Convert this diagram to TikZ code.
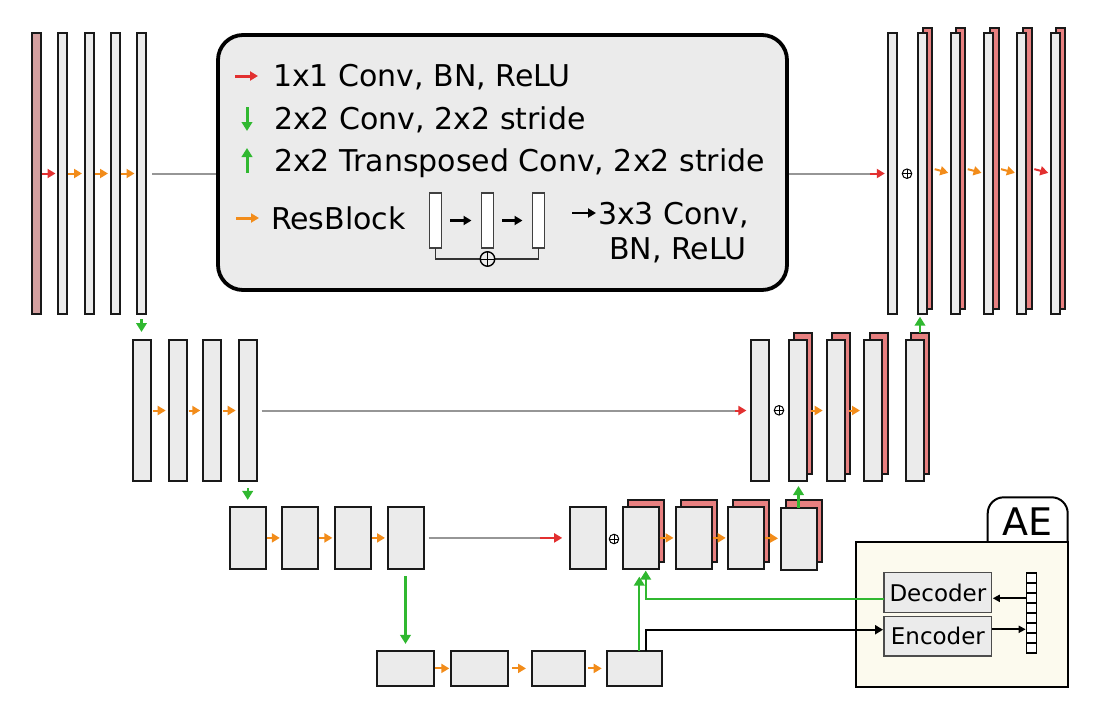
\documentclass[tikz,border=0pt]{standalone}
\usepackage{fontspec}
\setmainfont{DejaVu Sans}
\usetikzlibrary{arrows.meta}
\definecolor{barfill}{RGB}{235,235,235}
\definecolor{salmon}{RGB}{232,128,128}
\definecolor{dustypink}{RGB}{212,160,160}
\definecolor{resorange}{RGB}{242,140,26}
\definecolor{convred}{RGB}{226,48,48}
\definecolor{sampgreen}{RGB}{48,184,48}
\definecolor{skipgray}{RGB}{150,150,150}
\definecolor{aecream}{RGB}{252,250,238}
\tikzset{
  every node/.style = {inner sep=0pt, outer sep=0pt},
  tallbar/.style    = {draw=black!90, fill=barfill, line width=2pt,
                       minimum width=9pt, minimum height=281pt},   % top level
  midbar/.style     = {tallbar, minimum width=18pt, minimum height=141pt},
  lowbar/.style     = {tallbar, minimum width=36pt, minimum height=62pt},
  flatbar/.style    = {tallbar, minimum height=35pt},               % bottleneck
  minibar/.style    = {draw=black!75, fill=white, line width=1.2pt,
                       minimum width=12pt, minimum height=55pt},
  addnode/.style    = {circle, draw, line width=1pt, minimum size=9.5pt,
                       path picture={\draw[line width=1pt]
                         (path picture bounding box.north) -- (path picture bounding box.south)
                         (path picture bounding box.west) -- (path picture bounding box.east);}},
  resarr/.style     = {-{Triangle[length=8pt,width=9pt]}, resorange, line width=2pt,
                       shorten <=1pt, shorten >=2.5pt},
  convarr/.style    = {resarr, convred},
  samparr/.style    = {-{Triangle[length=9pt,width=10.5pt]}, sampgreen, line width=2.2pt},
  blackarr/.style   = {-{Triangle[length=8pt,width=9pt]}, black, line width=2pt},
  bigarr/.style     = {line width=3pt, shorten <=0pt, shorten >=0pt},
  skipline/.style   = {skipgray, line width=2pt},
  legendtext/.style = {font=\fontsize{30}{36}\selectfont, anchor=base west},
  aebox/.style      = {draw=black!70, fill=barfill, line width=1.3pt,
                       minimum width=107.7pt, minimum height=39.6pt,
                       font=\fontsize{23}{28}\selectfont}
}
\begin{document}
\begin{tikzpicture}[x=1pt, y=-1pt]
  \useasboundingbox (0,0) rectangle (1099,723);

  % ---- top level, encoder side
  \node[tallbar, fill=dustypink] (t1) at (36.5,173.5) {};
  \node[tallbar] (t2) at (62.5,173.5) {};
  \node[tallbar] (t3) at (89,173.5) {};
  \node[tallbar] (t4) at (115,173.5) {};
  \node[tallbar] (t5) at (141.5,173.5) {};
  \draw[convarr] (t1.east) -- (t2.west);
  \draw[resarr] (t2.east) -- (t3.west);
  \draw[resarr] (t3.east) -- (t4.west);
  \draw[resarr] (t4.east) -- (t5.west);

  % ---- top level, decoder side
  \node[tallbar] (r1) at (892.3,173.5) {};
  \node[tallbar, fill=salmon] (r2p) at (927.8,168.5) {};
  \node[tallbar] (r2) at (922.2,173.5) {};
  \node[tallbar, fill=salmon] (r3p) at (960.8,168.5) {};
  \node[tallbar] (r3) at (955.2,173.5) {};
  \node[tallbar, fill=salmon] (r4p) at (994.1,168.5) {};
  \node[tallbar] (r4) at (988.5,173.5) {};
  \node[tallbar, fill=salmon] (r5p) at (1027.4,168.5) {};
  \node[tallbar] (r5) at (1021.8,173.5) {};
  \node[tallbar, fill=salmon] (r6p) at (1060.8,168.5) {};
  \node[tallbar] (r6) at (1055.2,173.5) {};
  \node[addnode] (radd) at (907,173.7) {};
  \draw[resarr, shorten <=2.5pt] (r2p.east) -- (r3.west);
  \draw[resarr, shorten <=2.5pt] (r3p.east) -- (r4.west);
  \draw[resarr, shorten <=2.5pt] (r4p.east) -- (r5.west);
  \draw[convarr, shorten <=2.5pt] (r5p.east) -- (r6.west);

  % skip connection behind the legend
  \draw[skipline] ([xshift=6pt]t5.east) -- ([xshift=-18pt]r1.west);
  \draw[convarr, shorten <=0pt, shorten >=0pt] ([xshift=-18pt]r1.west) -- ([xshift=-3pt]r1.west);

  % ---- legend
  \node[draw=black, fill=barfill, line width=3.8pt, rounded corners=25pt,
        minimum width=569pt, minimum height=255pt] (legend) at (502.5,162.5) {};
  \draw[convarr, bigarr] (235,76) -- (258,76);
  \node[legendtext] (lg1) at (273,86) {1x1 Conv, BN, ReLU};
  \draw[samparr, bigarr] (247,107) -- (247,131);
  \node[legendtext] (lg2) at (274,129) {2x2 Conv, 2x2 stride};
  \draw[samparr, bigarr] (247,173) -- (247,148);
  \node[legendtext] (lg3) at (274,171) {2x2 Transposed Conv, 2x2 stride};
  \draw[resarr, bigarr] (236,218) -- (259,218);
  \node[legendtext] (lg4) at (271,229) {ResBlock};
  \node[minibar] (mba) at (435.5,220.5) {};
  \node[minibar] (mbb) at (487.5,220.5) {};
  \node[minibar] (mbc) at (538.5,220.5) {};
  \draw[blackarr, line width=2.6pt, shorten <=8.5pt, shorten >=10pt] (mba.east) -- (mbb.west);
  \draw[blackarr, line width=2.6pt, shorten <=8.5pt, shorten >=10pt] (mbb.east) -- (mbc.west);
  \draw[line width=1.3pt, black!80] (mba.south) -- ++(0,11) -| (mbc.south);
  \node[addnode, fill=barfill, line width=1.4pt, minimum size=14.5pt] (mbadd) at (487.5,259) {};
  \draw[blackarr, line width=2.6pt, shorten <=0pt, shorten >=0pt] (572,213) -- (596,213);
  \node[legendtext] (lg5) at (598,224) {3x3 Conv,};
  \node[legendtext] (lg6) at (609,259) {BN, ReLU};

  % ---- middle level, encoder side
  \node[midbar] (m1) at (142.3,410.5) {};
  \node[midbar] (m2) at (177.7,410.5) {};
  \node[midbar] (m3) at (212.3,410.5) {};
  \node[midbar] (m4) at (247.7,410.5) {};
  \draw[resarr, shorten <=2pt, shorten >=3pt] (m1.east) -- (m2.west);
  \draw[resarr, shorten <=2pt, shorten >=3pt] (m2.east) -- (m3.west);
  \draw[resarr, shorten <=2pt, shorten >=3pt] (m3.east) -- (m4.west);
  \draw[samparr, shorten <=5pt, shorten >=8pt] (t5.south) -- (t5.south |- m1.north);

  % ---- middle level, decoder side
  \node[midbar] (mr1) at (759.9,410.5) {};
  \node[midbar, fill=salmon] (mr2p) at (803,403.5) {};
  \node[midbar] (mr2) at (798.2,410.5) {};
  \node[midbar, fill=salmon] (mr3p) at (840.5,403.5) {};
  \node[midbar] (mr3) at (835.7,410.5) {};
  \node[midbar, fill=salmon] (mr4p) at (878.7,403.5) {};
  \node[midbar] (mr4) at (873,410.5) {};
  \node[midbar, fill=salmon] (mr5p) at (920,403.5) {};
  \node[midbar] (mr5) at (915,410.5) {};
  \node[addnode] (madd) at (779,410.3) {};
  \draw[resarr, shorten <=4pt, shorten >=4pt] (mr2.east) -- (mr3.west);
  \draw[resarr, shorten <=4pt, shorten >=4pt] (mr3.east) -- (mr4.west);
  \draw[samparr, shorten >=2.7pt] (mr5p.north) -- (mr5p.north |- r2.south);
  \draw[skipline] ([xshift=5pt]m4.east) -- ([xshift=-16pt]mr1.west);
  \draw[convarr, shorten <=0pt, shorten >=0pt] ([xshift=-16pt]mr1.west) -- ([xshift=-4.5pt]mr1.west);

  % ---- low level, encoder side
  \node[lowbar] (l1) at (247.9,537.9) {};
  \node[lowbar] (l2) at (300.3,537.9) {};
  \node[lowbar] (l3) at (352.9,537.9) {};
  \node[lowbar] (l4) at (405.5,537.9) {};
  \draw[resarr] (l1.east) -- (l2.west);
  \draw[resarr] (l2.east) -- (l3.west);
  \draw[resarr] (l3.east) -- (l4.west);
  \draw[samparr, shorten <=7pt, shorten >=7pt] (m4.south) -- (m4.south |- l1.north);

  % ---- low level, decoder side
  \node[lowbar] (lr1) at (588.2,537.9) {};
  \node[lowbar, fill=salmon] (lr2p) at (645.7,530.5) {};
  \node[lowbar] (lr2) at (640.5,537.9) {};
  \node[lowbar, fill=salmon] (lr3p) at (699.2,530.5) {};
  \node[lowbar] (lr3) at (694,537.9) {};
  \node[lowbar, fill=salmon] (lr4p) at (751.4,530.5) {};
  \node[lowbar] (lr4) at (746.2,537.9) {};
  \node[lowbar, fill=salmon] (lr5p) at (803.9,530.5) {};
  \node[lowbar] (lr5) at (798.5,538.5) {};
  \node[addnode] (laddn) at (614,539) {};
  \draw[resarr] (lr2.east) -- (lr3.west);
  \draw[resarr] (lr3.east) -- (lr4.west);
  \draw[resarr] (lr4.east) -- (lr5.west);
  \draw[samparr, shorten >=5pt] (lr5.north) -- (lr5.north |- mr2.south);
  \draw[skipline] ([xshift=5pt]l4.east) -- ([xshift=-30pt]lr1.west);
  \draw[convarr, shorten <=0pt, shorten >=0pt] ([xshift=-30pt]lr1.west) -- ([xshift=-8pt]lr1.west);

  % ---- bottleneck
  \node[flatbar, minimum width=56.4pt] (b1) at (405.5,668.4) {};
  \node[flatbar, minimum width=57pt] (b2) at (479.2,668.4) {};
  \node[flatbar, minimum width=52.8pt] (b3) at (558.1,668.4) {};
  \node[flatbar, minimum width=54.4pt] (b4) at (634.5,668.4) {};
  \draw[samparr, shorten <=7pt, shorten >=7pt] (l4.south) -- (l4.south |- b1.north);
  \draw[resarr, shorten <=1.3pt, shorten >=1.4pt] (b1.east) -- (b2.west);
  \draw[resarr, shorten <=4.6pt, shorten >=5.7pt] (b2.east) -- (b3.west);
  \draw[resarr, shorten <=3.8pt, shorten >=5.6pt] (b3.east) -- (b4.west);

  % ---- AE
  \draw[line width=2pt, fill=white, rounded corners=16pt]
    (987.7,541.7) -- (987.7,497.3) -- (1067.7,497.3) -- (1067.7,541.7);
  \node[draw=black, fill=aecream, line width=2pt,
        minimum width=211.7pt, minimum height=145pt] (aebody) at (961.9,614.2) {};
  \node[font=\fontsize{38}{40}\selectfont] (aelabel) at (1027.7,522) {AE};
  \node[aebox] (dec) at (937.9,592.5) {Decoder};
  \node[aebox] (enc) at (937.9,636.2) {Encoder};
  \node[draw=black, fill=white, line width=1.1pt, minimum width=10pt, minimum height=80pt] (lat) at (1031.7,613) {};
  \foreach \k in {1,...,7}
    \draw[line width=1.1pt] ([yshift=-\k*10pt]lat.north west) -- ([yshift=-\k*10pt]lat.north east);
  \draw[blackarr, line width=1.8pt, -{Triangle[length=7pt,width=7pt]}, shorten >=1pt]
    ([yshift=14.7pt]lat.west) -- ([yshift=14.7pt]lat.west -| dec.east);
  \draw[blackarr, line width=1.8pt, -{Triangle[length=7pt,width=7pt]}, shorten >=1pt]
    ([yshift=-16.3pt]lat.west -| enc.east) -- ([yshift=-16.3pt]lat.west);

  % bottleneck to AE and back
  \draw[blackarr, line width=2.2pt, shorten >=1pt] ([xshift=11.2pt]b4.north) |- ([yshift=6.5pt]enc.west);
  \draw[samparr, shorten >=7.7pt] ([xshift=4.8pt]b4.north) -- ([xshift=4.8pt]b4.north |- lr2.south);
  \draw[samparr, shorten >=1.7pt] ([yshift=-6.8pt]dec.west) -| ([xshift=5.2pt]lr2.south);
\end{tikzpicture}
\end{document}
